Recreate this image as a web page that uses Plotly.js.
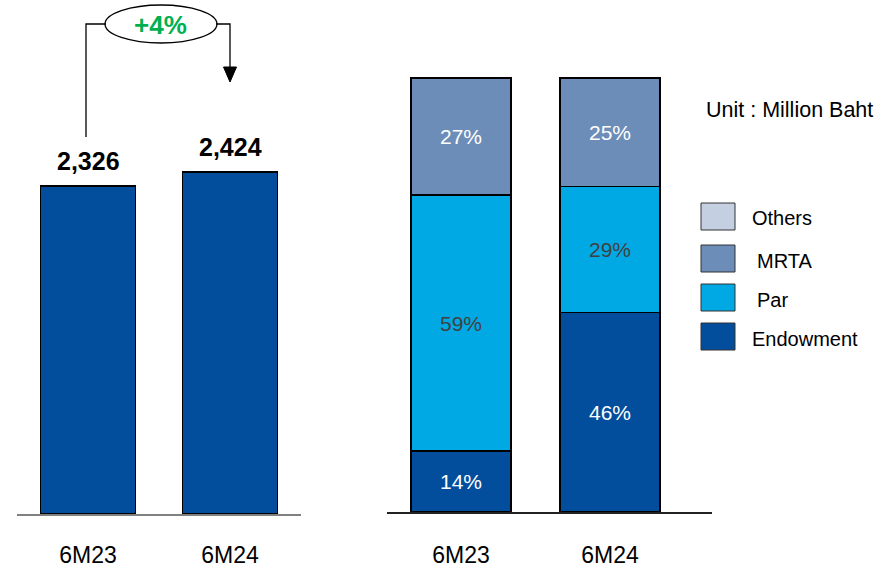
<!DOCTYPE html>
<html>
<head>
<meta charset="utf-8">
<script src="https://cdn.plot.ly/plotly-3.0.1.min.js"></script>
<style>html,body{margin:0;padding:0;background:#fff}#chart{width:885px;height:570px}</style>
</head>
<body>
<div id="chart"></div>
<script>
// ---- data ----
var periods = ['6M23', '6M24'];
var totalPremium = [2326, 2424];
var growthLabel = '+4%';
var unitLabel = 'Unit : Million Baht';
var seriesNames = ['Endowment', 'Par', 'MRTA', 'Others'];
var endowment = [14, 46];
var par = [59, 29];
var mrta = [27, 25];
var others = [0, 0];

// ---- helpers ----
var W = 885, H = 570;
function px(x) { return x / W; }
function py(y) { return 1 - y / H; }
function fmt(v) { return v.toLocaleString('en-US'); }
function pct(arr) { return arr.map(function (v) { return v > 0 ? v + '%' : ''; }); }

var colors = { Endowment: '#024e9d', Par: '#00a9e4', MRTA: '#6d8db9', Others: '#c4cfe2' };
var textColors = { Endowment: '#ffffff', Par: '#404040', MRTA: '#ffffff', Others: '#404040' };
var font = 'Liberation Sans, Arial, Helvetica, sans-serif';

var traces = [];
traces.push({
  type: 'bar', x: periods, y: totalPremium, xaxis: 'x', yaxis: 'y', width: 0.67,
  marker: { color: colors.Endowment, line: { color: '#000', width: 1.5 } },
  hoverinfo: 'x+y', showlegend: false
});
var stackData = [endowment, par, mrta, others];
seriesNames.forEach(function (name, i) {
  traces.push({
    type: 'bar', name: name, x: periods, y: stackData[i], xaxis: 'x2', yaxis: 'y2', width: 0.67,
    text: pct(stackData[i]), textposition: 'inside', insidetextanchor: 'middle',
    textfont: { family: font, size: 21, color: textColors[name] },
    constraintext: 'none',
    marker: { color: colors[name], line: { color: '#000', width: 1.5 } },
    showlegend: false
  });
});

var annotations = [];
totalPremium.forEach(function (v, i) {
  annotations.push({
    xref: 'x', yref: 'y', x: periods[i], y: v, yanchor: 'bottom', yshift: 9,
    text: '<b>' + fmt(v) + '</b>', showarrow: false,
    font: { family: font, size: 25, color: '#000' }
  });
});
annotations.push({
  xref: 'paper', yref: 'paper', x: px(160), y: py(25), xanchor: 'center', yanchor: 'middle',
  text: '<b>' + growthLabel + '</b>', showarrow: false,
  font: { family: font, size: 26, color: '#00b050' }
});
annotations.push({
  xref: 'paper', yref: 'paper', x: px(704), y: py(110), xanchor: 'left', yanchor: 'middle',
  text: unitLabel, showarrow: false, font: { family: font, size: 21.5, color: '#000' }
});

var shapes = [
  // connector from 6M23 to ellipse
  { type: 'path', xref: 'paper', yref: 'paper',
    path: 'M' + px(86) + ',' + py(137) + ' L' + px(86) + ',' + py(24) + ' L' + px(106) + ',' + py(24),
    line: { color: '#000', width: 1.3 } },
  { type: 'circle', xref: 'paper', yref: 'paper', x0: px(105), x1: px(217), y0: py(43), y1: py(5),
    line: { color: '#000', width: 1.3 }, fillcolor: 'rgba(0,0,0,0)' },
  { type: 'path', xref: 'paper', yref: 'paper',
    path: 'M' + px(216) + ',' + py(24) + ' L' + px(230) + ',' + py(24) + ' L' + px(230) + ',' + py(68),
    line: { color: '#000', width: 1.3 } },
  { type: 'path', xref: 'paper', yref: 'paper',
    path: 'M' + px(223.5) + ',' + py(67) + ' L' + px(236.5) + ',' + py(67) + ' L' + px(230) + ',' + py(82) + ' Z',
    fillcolor: '#000', line: { color: '#000', width: 1 } }
];

// manual legend (top to bottom: Others, MRTA, Par, Endowment)
var legendRows = [
  { name: 'Others', y0: 203, y1: 230, tx: 750 },
  { name: 'MRTA', y0: 245, y1: 272, tx: 755 },
  { name: 'Par', y0: 284, y1: 311, tx: 755 },
  { name: 'Endowment', y0: 323, y1: 350, tx: 750 }
];
legendRows.forEach(function (r) {
  shapes.push({ type: 'rect', xref: 'paper', yref: 'paper', x0: px(701), x1: px(735), y0: py(r.y1), y1: py(r.y0),
    fillcolor: colors[r.name], line: { color: '#333', width: 1 } });
  annotations.push({ xref: 'paper', yref: 'paper', x: px(r.tx), y: py((r.y0 + r.y1) / 2 + 2), xanchor: 'left', yanchor: 'middle',
    text: r.name, showarrow: false, font: { family: font, size: 20, color: '#000' } });
});

var layout = {
  width: W, height: H,
  margin: { l: 0, r: 0, t: 0, b: 0 },
  paper_bgcolor: '#fff', plot_bgcolor: 'rgba(0,0,0,0)',
  barmode: 'stack',
  font: { family: font },
  showlegend: false,
  xaxis: { domain: [px(17), px(301)], range: [-0.5, 1.5], type: 'category', anchor: 'y',
    showline: true, linecolor: '#808080', linewidth: 2, ticks: '', showgrid: false, zeroline: false,
    tickfont: { family: font, size: 23, color: '#000' }, ticklabelstandoff: 19, fixedrange: true },
  yaxis: { domain: [1 - 514 / H, 1], range: [0, 514 / 0.14105], visible: false, fixedrange: true },
  xaxis2: { domain: [px(387), px(712)], range: [-0.497, 1.685], type: 'category', anchor: 'y2',
    showline: true, linecolor: '#222', linewidth: 2, ticks: '', showgrid: false, zeroline: false,
    tickfont: { family: font, size: 23, color: '#000' }, ticklabelstandoff: 21, fixedrange: true },
  yaxis2: { domain: [1 - 512 / H, 1], range: [0, 512 / 4.34], visible: false, fixedrange: true },
  annotations: annotations,
  shapes: shapes
};

Plotly.newPlot('chart', traces, layout, { displayModeBar: false, staticPlot: true });
</script>
</body>
</html>
